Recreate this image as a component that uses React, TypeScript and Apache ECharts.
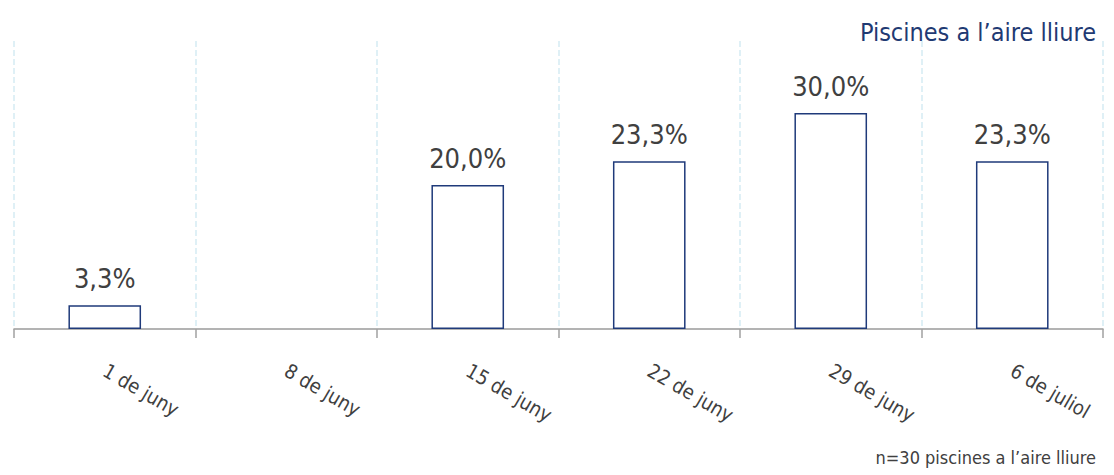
import React, { useEffect, useRef } from "react";
import * as echarts from "echarts";

const categories = ["1 de juny", "8 de juny", "15 de juny", "22 de juny", "29 de juny", "6 de juliol"];
const values: (number | null)[] = [3.3, null, 20.0, 23.3, 30.0, 23.3];
const titleText = "Piscines a l\u2019aire lliure";
const noteText = "n=30 piscines a l\u2019aire lliure";

const FONT = "'Liberation Sans Narrow', 'DejaVu Sans Condensed', 'Roboto', sans-serif";

export default function App() {
  const ref = useRef<HTMLDivElement>(null);
  useEffect(() => {
    if (!ref.current) return;
    const chart = echarts.init(ref.current, null, { renderer: "svg" });
    chart.setOption({
      animation: false,
      textStyle: { fontFamily: FONT },
      title: [
        {
          text: titleText,
          right: 13,
          top: 15,
          textStyle: { color: "#1f3a73", fontSize: 25, fontWeight: "normal", fontFamily: FONT },
        },
        {
          text: noteText,
          right: 13,
          top: 443,
          textStyle: { color: "#404040", fontSize: 18, fontWeight: "normal", fontFamily: FONT },
        },
      ],
      grid: { left: 14, right: 11, top: 41, bottom: 146, containLabel: false },
      xAxis: {
        type: "category",
        data: categories,
        axisLine: { lineStyle: { color: "#9a9a9a", width: 1.5 } },
        axisTick: { show: true, length: 9, lineStyle: { color: "#a0a0a0", width: 1.5 } },
        splitLine: { show: true, lineStyle: { color: "#d5ecf3", type: "dashed", width: 1.5 } },
        axisLabel: {
          rotate: -30,
          margin: 40,
          color: "#404040",
          fontSize: 20,
          fontFamily: FONT,
          interval: 0,
        },
      },
      yAxis: {
        type: "value",
        min: 0,
        max: 40,
        show: false,
        splitLine: { show: false },
      },
      series: [
        {
          type: "bar",
          data: values,
          barWidth: "40%",
          itemStyle: { color: "#ffffff", borderColor: "#1f3a7a", borderWidth: 1.5 },
          label: {
            show: true,
            position: "top",
            distance: 13,
            color: "#404040",
            fontSize: 27,
            fontFamily: FONT,
            formatter: (p: any) => (p.value == null ? "" : Number(p.value).toFixed(1).replace(".", ",") + "%"),
          },
        },
      ],
    });
    return () => chart.dispose();
  }, []);
  return <div ref={ref} style={{ width: 1114, height: 475, position: "absolute", left: 0, top: 0 }} />;
}
